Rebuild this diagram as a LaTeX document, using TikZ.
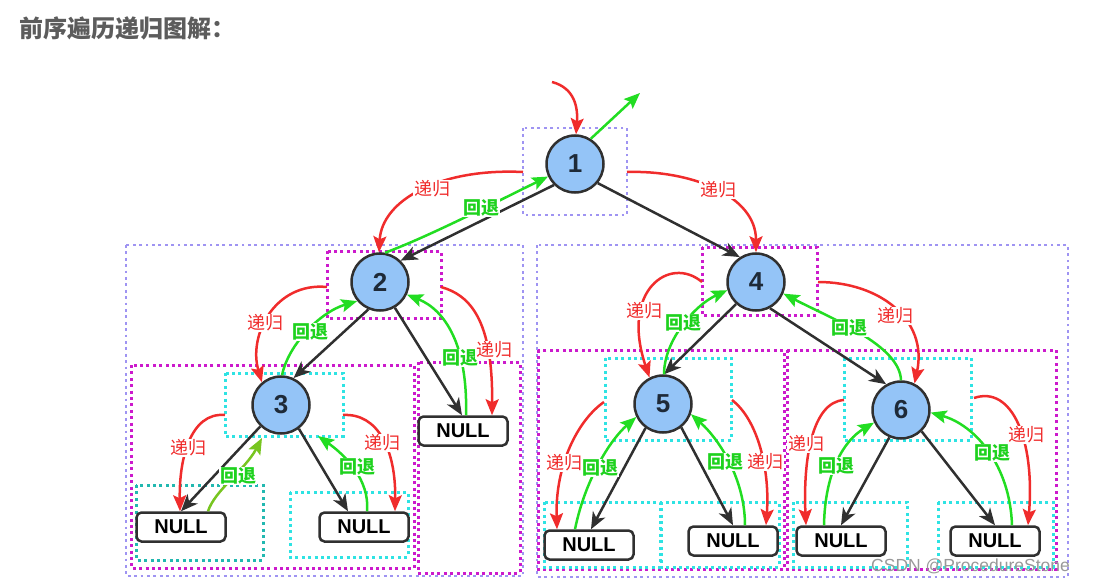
\documentclass[tikz,border=0pt]{standalone}
\usepackage{fontspec}
\setmainfont{Liberation Sans}
\newfontfamily\cjk{Noto Sans CJK SC}
\newfontfamily\wm{Liberation Sans}
\usetikzlibrary{arrows.meta}
\definecolor{edgec}{HTML}{303030}
\definecolor{nodefill}{HTML}{94C4F7}
\definecolor{numc}{HTML}{1E2A38}
\definecolor{rd}{HTML}{F02C2C}
\definecolor{gr}{HTML}{22DD22}
\definecolor{grt}{HTML}{1ED21E}
\definecolor{olivegr}{HTML}{77C520}
\definecolor{lavc}{HTML}{9F94F2}
\definecolor{magc}{HTML}{CC1ACC}
\definecolor{cync}{HTML}{2EE3E3}
\definecolor{tealc}{HTML}{22B8B0}
\definecolor{titlec}{HTML}{5C5C5C}
\begin{document}
\begin{tikzpicture}[x=1pt,y=-1pt,
  tnode/.style={circle, draw=edgec, line width=2.5pt, fill=nodefill, minimum size=57pt, inner sep=0pt,
    font=\bfseries\fontsize{26}{26}\selectfont, text=numc},
  nullbox/.style={rounded corners=5pt, draw=edgec, line width=2.5pt, fill=white, minimum width=89pt,
    minimum height=29pt, inner sep=0pt, font=\bfseries\fontsize{20}{20}\selectfont, text=black},
  blkarrow/.style={draw=edgec, line width=2.5pt, -{Stealth[length=17pt,width=14pt,inset=5pt]}},
  recarrow/.style={draw=rd, line width=2.5pt, -{Stealth[length=16pt,width=13pt,inset=3pt]}},
  backarrow/.style={draw=gr, line width=2.5pt, -{Stealth[length=16pt,width=13pt,inset=3pt]}},
  rlab/.style={fill=white, inner sep=1pt, text=rd, font=\cjk\fontsize{18}{18}\selectfont},
  glab/.style={fill=white, inner sep=1pt, text=grt, font=\cjk\bfseries\fontsize{18}{18}\selectfont},
  lav/.style={draw=lavc, line width=2.8pt, dash pattern=on 2.8pt off 3.6pt},
  mag/.style={draw=magc, line width=3pt, dash pattern=on 3pt off 3.4pt},
  cyn/.style={draw=cync, line width=3pt, dash pattern=on 3pt off 3.4pt},
  teal/.style={draw=tealc, line width=3pt, dash pattern=on 3pt off 3.4pt}]
\useasboundingbox (0,0) rectangle (1096,583);

% title
\node[anchor=west, inner sep=0pt, text=titlec, font=\cjk\bfseries\fontsize{24}{24}\selectfont] (title) at (19,28) {前序遍历递归图解：};

% dotted frames
\draw[lav] (523,128) rectangle (627,215);
\draw[lav] (126,245) rectangle (523,576);
\draw[lav] (537,245) rectangle (1068,577);
\draw[mag] (327,251) rectangle (441,318);
\draw[mag] (702,247) rectangle (817,315);
\draw[mag] (131,365) rectangle (414,568);
\draw[mag] (418,362) rectangle (520,573);
\draw[mag] (538,350) rectangle (784,569);
\draw[mag] (787,350) rectangle (1056,569);
\draw[cyn] (225,373) rectangle (343,436);
\draw[teal] (136,485) rectangle (263,560);
\draw[cyn] (290,492) rectangle (408,557);
\draw[cyn] (605,358) rectangle (731,440);
\draw[cyn] (844,358) rectangle (971,440);
\draw[cyn] (544,502) rectangle (660,567);
\draw[cyn] (661,502) rectangle (779,567);
\draw[cyn] (793,502) rectangle (907,567);
\draw[cyn] (938,502) rectangle (1053,567);

% tree nodes
\node[tnode] (n1) at (575,164) {1};
\node[tnode] (n2) at (380,282) {2};
\node[tnode] (n3) at (281,405) {3};
\node[tnode] (n4) at (756,282) {4};
\node[tnode] (n5) at (663,404) {5};
\node[tnode] (n6) at (901,410) {6};
\node[nullbox] (b2) at (463,431) {NULL};
\node[nullbox] (b3l) at (181,527) {NULL};
\node[nullbox] (b3r) at (364,527) {NULL};
\node[nullbox] (b5l) at (589,545) {NULL};
\node[nullbox] (b5r) at (733,541) {NULL};
\node[nullbox] (b6l) at (841,541) {NULL};
\node[nullbox] (b6r) at (995,541) {NULL};

% tree edges
\draw[blkarrow] (n1.225) -- (n2.46);
\draw[blkarrow] (n1.320) -- (n4.123);
\draw[blkarrow] (n2.247) -- (n3.65);
\draw[blkarrow] (n2.300) -- ([xshift=-1pt]b2.north);
\draw[blkarrow] (n3.226) -- (b3l.north);
\draw[blkarrow] (n3.307) -- ([xshift=-16pt]b3r.north);
\draw[blkarrow] (n4.228) -- (n5.88);
\draw[blkarrow] (n4.298) -- (n6.120);
\draw[blkarrow] (n5.234) -- ([xshift=2pt]b5l.north);
\draw[blkarrow] (n5.308) -- (b5r.north);
\draw[blkarrow] (n6.247) -- (b6l.north);
\draw[blkarrow] (n6.314) -- (b6r.north);

% free ends
\coordinate (topin) at (552,82);
\coordinate (topout) at (640,93);
\coordinate (r12) at (523,172);
\coordinate (r14) at (627,172);
\coordinate (r23) at (327,287);
\coordinate (r2n) at (441,287);
\coordinate (r3l) at (225,415);
\coordinate (r3r) at (343,415);
\coordinate (g3l) at (262,438);
\coordinate (g3r) at (318,436);
\coordinate (r45) at (702,282);
\coordinate (r46) at (818,282);
\coordinate (r5l) at (604,402);
\coordinate (r5r) at (732,400);
\coordinate (r6l) at (844,400);
\coordinate (r6r) at (974,398);

% root in / out
\draw[recarrow] (topin) .. controls (575,88) and (578,108) .. (n1.88);
\draw[backarrow] (n1.58) -- (topout);

% level 1
\draw[recarrow] (r12) .. controls (440,168) and (382,200) .. (n2.92);
\node[rlab] (l12) at (432,189) {递归};
\draw[backarrow] (n2.80) .. controls (430,236) and (500,200) .. (n1.205);
\node[glab] (k21) at (481,208) {回退};
\draw[recarrow] (r14) .. controls (690,170) and (756,195) .. (n4.north);
\node[rlab] (l14) at (718,190) {递归};

% node 2
\draw[recarrow] (r23) .. controls (275,282) and (248,335) .. (n3.130);
\node[rlab] (l23) at (265,323) {递归};
\draw[backarrow] (n3.88) .. controls (288,345) and (320,312) .. (n2.220);
\node[glab] (k32) at (310,332) {回退};
\draw[recarrow] (r2n) .. controls (470,295) and (493,320) .. ([xshift=29pt]b2.north);
\draw[backarrow] ([xshift=3pt]b2.north) .. controls (468,345) and (445,310) .. (n2.335);
\node[glab] (k2n) at (460,358) {回退};
\node[rlab] (l2n) at (494,350) {递归};

% node 3
\draw[recarrow] (r3l) .. controls (190,412) and (179,460) .. ([xshift=-1pt]b3l.north);
\node[rlab] (l3l) at (188,448) {递归};
\draw[draw=olivegr, line width=2.5pt, -{Stealth[length=16pt,width=13pt,inset=3pt]}] ([xshift=27pt]b3l.north) .. controls (215,490) and (245,470) .. (g3l);
\node[glab] (k3l) at (238,476) {回退};
\draw[recarrow] (r3r) .. controls (378,413) and (396,450) .. ([xshift=31pt]b3r.north);
\node[rlab] (l3r) at (382,443) {递归};
\draw[backarrow] ([xshift=3pt]b3r.north) .. controls (370,480) and (345,455) .. (g3r);
\node[glab] (k3r) at (357,467) {回退};

% node 4
\draw[recarrow] (r45) .. controls (670,255) and (620,290) .. (n5.117);
\node[rlab] (l45) at (644,311) {递归};
\draw[backarrow] (n5.88) .. controls (664,340) and (695,305) .. (n4.196);
\node[glab] (k54) at (683,323) {回退};
\draw[recarrow] (r46) .. controls (880,282) and (928,320) .. (n6.63);
\node[rlab] (l46) at (895,316) {递归};
\draw[backarrow] (n6.90) .. controls (900,345) and (830,318) .. (n4.337);
\node[glab] (k64) at (849,328) {回退};

% node 5
\draw[recarrow] (r5l) .. controls (578,420) and (555,465) .. ([xshift=-32pt]b5l.north);
\draw[backarrow] ([xshift=-14pt]b5l.north) .. controls (585,480) and (610,440) .. (n5.206);
\node[rlab] (l5l) at (564,463) {递归};
\node[glab] (k5l) at (600,468) {回退};
\draw[recarrow] (r5r) .. controls (758,420) and (770,470) .. ([xshift=33pt]b5r.north);
\draw[backarrow] ([xshift=12pt]b5r.north) .. controls (745,480) and (720,440) .. (n5.340);
\node[glab] (k5r) at (725,462) {回退};
\node[rlab] (l5r) at (765,462) {递归};

% node 6
\draw[recarrow] (r6l) .. controls (812,402) and (803,460) .. ([xshift=-35pt]b6l.north);
\node[rlab] (l6l) at (806,444) {递归};
\draw[backarrow] ([xshift=-17pt]b6l.north) .. controls (825,470) and (845,440) .. (n6.205);
\node[glab] (k6l) at (836,466) {回退};
\draw[recarrow] (r6r) .. controls (1012,385) and (1035,440) .. ([xshift=33pt]b6r.north);
\node[rlab] (l6r) at (1026,435) {递归};
\draw[backarrow] ([xshift=17pt]b6r.north) .. controls (1010,465) and (975,425) .. (n6.355);
\node[glab] (k6r) at (992,453) {回退};

% watermark
\node[anchor=west, inner sep=0pt, text=black!40, font=\wm\fontsize{17.5}{17.5}\selectfont] (wmark) at (871,566) {CSDN @ProcedureStone};
\end{tikzpicture}
\end{document}
